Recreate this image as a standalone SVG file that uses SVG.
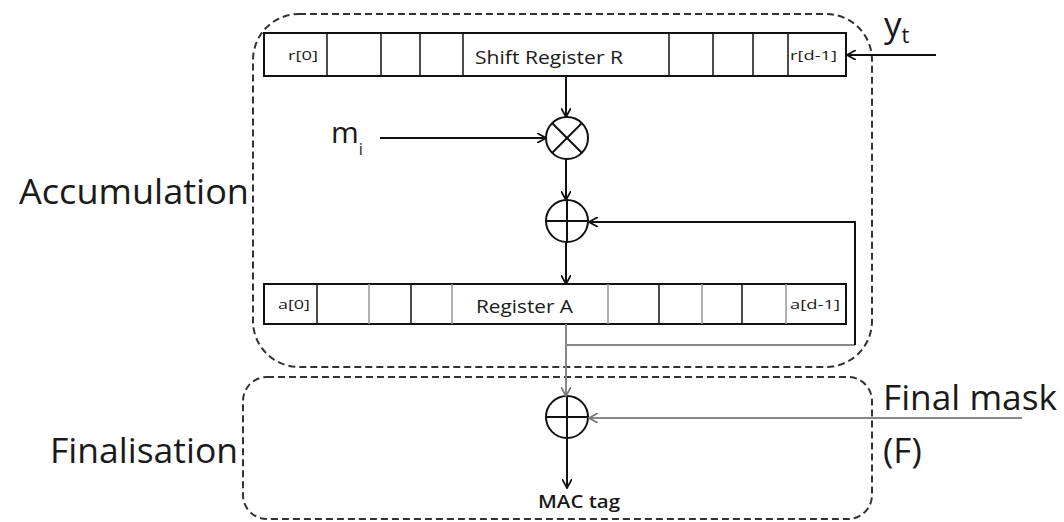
<svg xmlns="http://www.w3.org/2000/svg" width="1064" height="522" viewBox="0 0 1064 522">
<style>
.t{font-family:"Open Sans","Liberation Sans",sans-serif;fill:#1a1a1a}
.big{font-size:35px}
.mid{font-size:19px}
.sm{font-size:13px}
.ln{stroke:#111;stroke-width:2;fill:none}
.gr{stroke:#888;stroke-width:2;fill:none}
.dv{stroke:#111;stroke-width:1.5}
.dg{stroke:#999;stroke-width:1.5}
.dash{stroke:#333;stroke-width:2;fill:none;stroke-dasharray:7 4}
.box{stroke:#111;stroke-width:2;fill:#fff}
</style>
<defs>
<marker id="ah" viewBox="0 0 10 10" refX="9" refY="5" markerWidth="10" markerHeight="10" markerUnits="userSpaceOnUse" orient="auto">
<path d="M0,0 L9,5 L0,10" fill="none" stroke="#111" stroke-width="1.8"/>
</marker>
<marker id="ahg" viewBox="0 0 10 10" refX="9" refY="5" markerWidth="10" markerHeight="10" markerUnits="userSpaceOnUse" orient="auto">
<path d="M0,0 L9,5 L0,10" fill="none" stroke="#777" stroke-width="1.8"/>
</marker>
</defs>
<rect width="1064" height="522" fill="#fff"/>

<g id="accumulation-box">
<rect class="dash" x="253" y="14" width="619" height="353" rx="46"/>
<text class="t big" x="19" y="204" textLength="230" lengthAdjust="spacingAndGlyphs">Accumulation</text>
</g>
<g id="finalisation-box">
<rect class="dash" x="243" y="377" width="629" height="142" rx="24"/>
<text class="t big" x="50" y="463" textLength="188" lengthAdjust="spacingAndGlyphs">Finalisation</text>
</g>

<g id="shift-register-r">
<rect class="box" x="264" y="33" width="582" height="43"/>
<line class="dv" x1="327" y1="33" x2="327" y2="76"/>
<line class="dv" x1="381" y1="33" x2="381" y2="76"/>
<line class="dv" x1="420" y1="33" x2="420" y2="76"/>
<line class="dv" x1="463" y1="33" x2="463" y2="76"/>
<line class="dv" x1="669" y1="33" x2="669" y2="76"/>
<line class="dv" x1="713" y1="33" x2="713" y2="76"/>
<line class="dv" x1="753" y1="33" x2="753" y2="76"/>
<line class="dv" x1="788" y1="33" x2="788" y2="76"/>
<text class="t sm" x="288" y="60" textLength="30" lengthAdjust="spacingAndGlyphs">r[0]</text>
<text class="t mid" x="475" y="64" textLength="148" lengthAdjust="spacingAndGlyphs">Shift Register R</text>
<text class="t sm" x="790" y="60" textLength="47" lengthAdjust="spacingAndGlyphs">r[d-1]</text>
</g>

<g id="register-a">
<rect class="box" x="264" y="284" width="582" height="40"/>
<line class="dv" x1="317" y1="284" x2="317" y2="324"/>
<line class="dg" x1="369" y1="284" x2="369" y2="324"/>
<line class="dv" x1="411" y1="284" x2="411" y2="324"/>
<line class="dg" x1="452" y1="284" x2="452" y2="324"/>
<line class="dg" x1="608" y1="284" x2="608" y2="324"/>
<line class="dv" x1="659" y1="284" x2="659" y2="324"/>
<line class="dg" x1="702" y1="284" x2="702" y2="324"/>
<line class="dv" x1="742" y1="284" x2="742" y2="324"/>
<line class="dg" x1="786" y1="284" x2="786" y2="324"/>
<text class="t sm" x="278" y="309" textLength="32" lengthAdjust="spacingAndGlyphs">a[0]</text>
<text class="t mid" x="476" y="313" textLength="97" lengthAdjust="spacingAndGlyphs">Register A</text>
<text class="t sm" x="790" y="309" textLength="50" lengthAdjust="spacingAndGlyphs">a[d-1]</text>
</g>

<g id="multiply">
<circle class="ln" cx="567" cy="138" r="21"/>
<line class="ln" x1="552" y1="123" x2="582" y2="153"/>
<line class="ln" x1="582" y1="123" x2="552" y2="153"/>
</g>
<g id="xor-acc">
<circle class="ln" cx="567" cy="221" r="21"/>
<line class="ln" x1="546" y1="221" x2="588" y2="221"/>
<line class="ln" x1="567" y1="200" x2="567" y2="242"/>
</g>
<g id="xor-final">
<circle class="ln" cx="567" cy="417" r="21"/>
<line class="ln" x1="546" y1="417" x2="588" y2="417"/>
<line class="ln" x1="567" y1="396" x2="567" y2="438"/>
</g>

<g id="label-yt">
<text class="t" font-size="35" x="884" y="37">y<tspan font-size="22" dy="6">t</tspan></text>
</g>
<g id="label-mi">
<text class="t" font-size="30" x="331" y="143">m<tspan font-size="16" dy="12">i</tspan></text>
</g>
<g id="label-final-mask">
<text class="t big" x="883" y="410" textLength="174" lengthAdjust="spacingAndGlyphs">Final mask</text>
<text class="t big" x="883" y="463">(F)</text>
</g>
<g id="label-mac">
<text class="t" font-size="18" font-weight="600" x="538" y="508" textLength="82" lengthAdjust="spacingAndGlyphs">MAC tag</text>
</g>

<g id="connectors">
<line class="ln" x1="936" y1="55" x2="847" y2="55" marker-end="url(#ah)"/>
<line class="ln" x1="566" y1="76" x2="566" y2="117" marker-end="url(#ah)"/>
<line class="ln" x1="380" y1="138" x2="546" y2="138" marker-end="url(#ah)"/>
<line class="ln" x1="566" y1="159" x2="566" y2="200" marker-end="url(#ah)"/>
<line class="ln" x1="566" y1="242" x2="566" y2="284" marker-end="url(#ah)"/>
<polyline class="gr" points="566,345 855,345"/>
<polyline class="ln" points="855,345 855,222 589,222" stroke="#333" marker-end="url(#ah)"/>
<line class="gr" x1="566" y1="324" x2="566" y2="396" marker-end="url(#ahg)"/>
<line class="gr" x1="1022" y1="418" x2="589" y2="418" marker-end="url(#ahg)"/>
<line class="ln" x1="567" y1="438" x2="567" y2="488" marker-end="url(#ah)"/>
</g>
</svg>
